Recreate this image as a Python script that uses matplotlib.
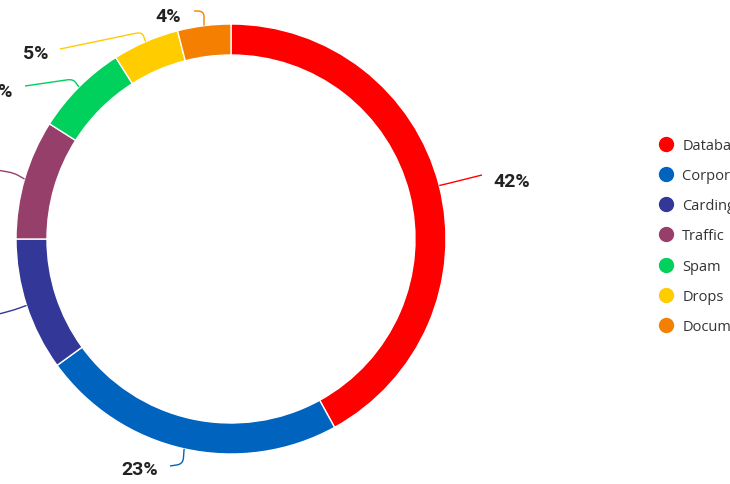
import numpy as np
import matplotlib.pyplot as plt
from matplotlib.path import Path
from matplotlib.patches import PathPatch
from matplotlib.lines import Line2D

categories = ['Databases', 'Corporate access', 'Carding', 'Traffic', 'Spam', 'Drops', 'Documents']
shares = [42, 23, 10, 9, 7, 5, 4]
colors = ['#ff0000', '#0063be', '#333797', '#963f6a', '#00d05c', '#ffcc00', '#f57f00']

plt.rcParams['font.family'] = ['Open Sans', 'DejaVu Sans']

W, H = 730, 485
fig = plt.figure(figsize=(W / 100, H / 100), dpi=100)
ax = fig.add_axes([0, 0, 1, 1])

cx, cy, R = 231, H - 240, 215
wedges, _ = ax.pie(shares, colors=colors, startangle=90, counterclock=False,
                   center=(cx, cy), radius=R,
                   wedgeprops=dict(width=31, edgecolor='white', linewidth=1))

ax.set_xlim(0, W)
ax.set_ylim(0, H)
ax.set_aspect('equal')
ax.axis('off')

# label layout in pixel coords (y down): elbow, connector end, text pos, alignment
layout = [
    ((450, 184), (482, 176), (493, 182), 'left'),
    ((183, 465), (170, 467), (158, 470), 'right'),
    ((14, 311), (-20, 320), (-30, 322), 'right'),
    ((14, 174), (-20, 168), (-30, 168), 'right'),
    ((73, 80), (25, 87), (13, 92), 'right'),
    ((142, 33), (60, 50), (48, 54), 'right'),
    ((204, 12), (194, 12), (181, 17), 'right'),
]

for w, s, c, (elb, end, txt, ha) in zip(wedges, shares, colors, layout):
    mid = np.deg2rad((w.theta1 + w.theta2) / 2)
    p0 = np.array([cx + R * np.cos(mid), cy + R * np.sin(mid)])
    p1 = np.array([elb[0], H - elb[1]])
    p2 = np.array([end[0], H - end[1]])
    a = p0 + 0.6 * (p1 - p0)
    b = p1 + min(1.0, 6 / max(np.linalg.norm(p2 - p1), 1e-6)) * (p2 - p1)
    path = Path([p0, a, p1, b, p2],
                [Path.MOVETO, Path.LINETO, Path.CURVE3, Path.CURVE3, Path.LINETO])
    ax.add_patch(PathPatch(path, facecolor='none', edgecolor=c, linewidth=1, clip_on=False))
    ax.text(txt[0], H - txt[1], f'{s}%', ha=ha, va='center', fontsize=14,
            fontweight='bold', color='#222222', clip_on=False,
            family=['Roboto', 'DejaVu Sans'])

handles = [Line2D([], [], marker='o', linestyle='', markersize=10, color=c) for c in colors]
ax.legend(handles, categories, loc='upper left', bbox_to_anchor=(659 / W, 1 - 139 / H),
          bbox_transform=fig.transFigure, frameon=False, fontsize=10.5,
          handlelength=1.0, handletextpad=0.6, labelspacing=1.04,
          borderpad=0, borderaxespad=0, labelcolor='#333333')

fig.savefig('out.png', dpi=100)
